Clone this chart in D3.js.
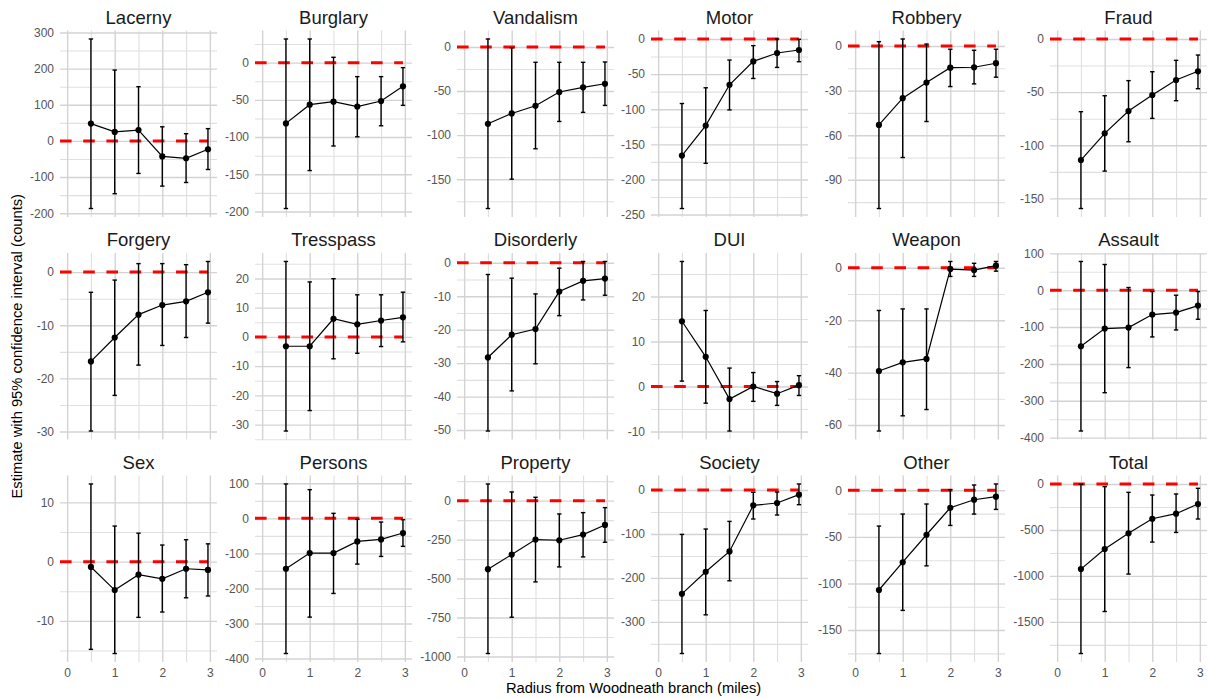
<!DOCTYPE html>
<html>
<head>
<meta charset="utf-8">
<script src="https://cdn.jsdelivr.net/npm/d3@7"></script>
<style>
  body { margin: 0; background: #fff; }
  text { font-family: "Liberation Sans", Arial, sans-serif; }
</style>
</head>
<body>
<script>
// facet names, in reading order (6 columns x 3 rows)
const crimes = ["Lacerny", "Burglary", "Vandalism", "Motor", "Robbery", "Fraud",
                "Forgery", "Tresspass", "Disorderly", "DUI", "Weapon", "Assault",
                "Sex", "Persons", "Property", "Society", "Other", "Total"];

// radius (miles) of each estimate
const radius = [0.5, 1, 1.5, 2, 2.5, 2.96];

// point estimates, one row per crime
const estimate = [
  [48, 25, 30, -43, -48, -23],
  [-81.6, -56.5, -52.5, -59, -51.6, -31.8],
  [-87.1, -75.4, -66.7, -51.1, -45.8, -41.7],
  [-166, -123.3, -65.2, -31.9, -20, -15.7],
  [-53.1, -35.1, -24.6, -14.6, -14.3, -11.6],
  [-113.9, -88.8, -67.8, -52.7, -38.6, -30.4],
  [-16.8, -12.3, -8.0, -6.2, -5.5, -3.8],
  [-3.2, -3.2, 6.2, 4.3, 5.6, 6.7],
  [-28.3, -21.5, -19.8, -8.6, -5.4, -4.7],
  [14.5, 6.6, -2.8, 0, -1.6, 0.3],
  [-39.4, -36.1, -34.8, -0.5, -0.9, 0.8],
  [-152, -104.2, -101.4, -66.1, -60.7, -41.7],
  [-0.9, -4.8, -2.2, -2.9, -1.2, -1.4],
  [-143.8, -99, -99, -65.7, -60, -41.9],
  [-440, -346, -250, -254.3, -218, -156],
  [-236.2, -186, -139.7, -34.9, -29.6, -10.6],
  [-107, -77.2, -47.7, -18.7, -10.1, -6.8],
  [-926, -708, -537, -378, -323, -218]
];

// lower 95% bound
const lower = [
  [-187, -146, -90, -125, -115, -79],
  [-196, -145, -112, -99.6, -84.8, -57.4],
  [-183.3, -150, -115.5, -84.5, -74.2, -66.3],
  [-241.4, -177, -101, -56.2, -40.5, -32.4],
  [-109.3, -75, -50.8, -27.3, -25.5, -21],
  [-159.5, -124.3, -96.7, -74.7, -58.1, -46.8],
  [-29.9, -23.2, -17.5, -13.8, -12.3, -9.6],
  [-32.2, -25.2, -7.5, -5.6, -3.3, -1.7],
  [-50.3, -38.3, -30.2, -15.8, -11.1, -9.7],
  [1.2, -3.7, -9.9, -3.3, -4.2, -2.0],
  [-62.3, -56.5, -54.1, -3.3, -3.3, -1.3],
  [-382, -278, -210, -126.8, -107.8, -78.8],
  [-14.8, -15.5, -9.4, -8.5, -6.1, -5.8],
  [-385.7, -281.9, -214.3, -130.5, -108.6, -80],
  [-980.8, -747.9, -521.4, -425.2, -361.1, -267],
  [-372, -284, -206.5, -66, -56.9, -33.4],
  [-175.2, -128.9, -81.1, -37.7, -25.5, -20.5],
  [-1844, -1387, -980, -632, -527, -381]
];

// upper 95% bound
const upper = [
  [282, 196, 150, 39, 20, 34],
  [31.8, 31.8, 7.2, -18.8, -18.8, -6.7],
  [9.1, -0.8, -17.4, -17.4, -17.4, -17],
  [-91.9, -69.5, -30, -9.5, 0, -0.5],
  [2.9, 4.7, 1.3, -2.2, -2.9, -2.2],
  [-68.4, -53.4, -39.2, -30.8, -20.1, -15.1],
  [-3.8, -1.5, 1.6, 1.6, 1.4, 2.0],
  [25.8, 18.8, 19.9, 14.4, 14.4, 15.3],
  [-3.5, -4.6, -9.3, -1.6, 0.4, 0.4],
  [27.8, 16.9, 4.1, 3.1, 1.1, 2.4],
  [-16.3, -15.7, -15.7, 2.4, 1.7, 2.4],
  [77.9, 69.7, 7.2, -3.6, -13.6, -3.6],
  [13.1, 6.0, 4.8, 2.8, 3.7, 3.0],
  [98.1, 81.9, 14.3, -2.9, -10.5, -3.8],
  [106.8, 55.6, 21.4, -85.5, -76.9, -44.9],
  [-101, -88.8, -71.4, -5.3, -4.6, 13.7],
  [-38.4, -25.5, -14.7, 0.7, 5.7, 6.8],
  [-4, -29, -91, -120, -109, -47]
];

// y tick labels of each facet
const yTicks = [
  [-200, -100, 0, 100, 200, 300],
  [-200, -150, -100, -50, 0],
  [-150, -100, -50, 0],
  [-250, -200, -150, -100, -50, 0],
  [-90, -60, -30, 0],
  [-150, -100, -50, 0],
  [-30, -20, -10, 0],
  [-30, -20, -10, 0, 10, 20],
  [-50, -40, -30, -20, -10, 0],
  [-10, 0, 10, 20],
  [-60, -40, -20, 0],
  [-400, -300, -200, -100, 0, 100],
  [-10, 0, 10],
  [-400, -300, -200, -100, 0, 100],
  [-1000, -750, -500, -250, 0],
  [-300, -200, -100, 0],
  [-150, -100, -50, 0],
  [-1500, -1000, -500, 0]
];

const xTicks = [0, 1, 2, 3];
const xMinor = [0.5, 1.5, 2.5];

// layout
const colLeft = [60, 255, 457, 651, 848, 1050];
const rowTop = [30.5, 253, 475.5];
const pw = 157, ph = 186.5;

const svg = d3.select("body").append("svg")
    .attr("width", 1208)
    .attr("height", 698);

const fmt = d => d3.format("d")(d).replace("−", "-");

crimes.forEach((name, i) => {
  const c = i % 6, r = Math.floor(i / 6);
  const g = svg.append("g")
      .attr("transform", `translate(${colLeft[c]}, ${rowTop[r]})`);

  const x = d3.scaleLinear().domain([-0.15, 3.15]).range([0, pw]);

  const lo = Math.min(0, d3.min(lower[i]));
  const hi = Math.max(0, d3.max(upper[i]));
  const pad = (hi - lo) * 0.05;
  const y = d3.scaleLinear().domain([lo - pad, hi + pad]).range([ph, 0]);

  // minor breaks halfway between majors
  const t = yTicks[i];
  const step = t[1] - t[0];
  const yMinor = d3.range(t[0] - step / 2, t[t.length - 1] + step, step)
      .filter(v => v >= y.domain()[0] && v <= y.domain()[1]);

  // minor grid
  g.append("g")
      .attr("class", "minor")
      .call(d3.axisLeft(y).tickValues(yMinor).tickSize(-pw).tickFormat(""));
  g.append("g")
      .attr("class", "minor")
      .attr("transform", `translate(0, ${ph})`)
      .call(d3.axisBottom(x).tickValues(xMinor).tickSize(-ph).tickFormat(""));

  // major grid + labels
  g.append("g")
      .attr("class", "major")
      .call(d3.axisLeft(y).tickValues(t).tickSize(-pw).tickPadding(6).tickFormat(fmt));
  g.append("g")
      .attr("class", "major")
      .attr("transform", `translate(0, ${ph})`)
      .call(d3.axisBottom(x).tickValues(xTicks).tickSize(-ph).tickPadding(6)
          .tickFormat(r === 2 ? d3.format("d") : ""));

  g.selectAll(".domain").remove();
  g.selectAll(".minor line").attr("stroke", "#e0e0e0").attr("stroke-width", 1.1);
  g.selectAll(".major line").attr("stroke", "#d3d3d3").attr("stroke-width", 1.4);
  g.selectAll(".tick text")
      .attr("fill", "#555")
      .style("font-size", "12px");

  // zero reference
  g.append("line")
      .attr("x1", 0)
      .attr("x2", x(radius[radius.length - 1]))
      .attr("y1", y(0))
      .attr("y2", y(0))
      .attr("stroke", "#ff0000")
      .attr("stroke-width", 3)
      .attr("stroke-dasharray", "11.6,11.6");

  const rows = radius.map((rad, k) => ({x: rad, est: estimate[i][k], lo: lower[i][k], hi: upper[i][k]}));

  // error bars
  const bars = g.append("g").selectAll("g").data(rows).join("g");
  bars.append("line")
      .attr("x1", d => x(d.x)).attr("x2", d => x(d.x))
      .attr("y1", d => y(d.lo)).attr("y2", d => y(d.hi))
      .attr("stroke", "#000").attr("stroke-width", 1.4);
  ["lo", "hi"].forEach(key => {
    bars.append("line")
        .attr("x1", d => x(d.x) - 2.2).attr("x2", d => x(d.x) + 2.2)
        .attr("y1", d => y(d[key])).attr("y2", d => y(d[key]))
        .attr("stroke", "#000").attr("stroke-width", 1.4);
  });

  const line = d3.line().x(d => x(d.x)).y(d => y(d.est));
  g.append("path")
      .attr("d", line(rows))
      .attr("fill", "none")
      .attr("stroke", "#000")
      .attr("stroke-width", 1.2);

  g.append("g").selectAll("circle").data(rows).join("circle")
      .attr("cx", d => x(d.x))
      .attr("cy", d => y(d.est))
      .attr("r", 3.1)
      .attr("fill", "#000");

  // strip title
  g.append("text")
      .attr("x", pw / 2)
      .attr("y", -7)
      .attr("text-anchor", "middle")
      .attr("fill", "#1a1a1a")
      .style("font-size", "18.5px")
      .text(name);
});

// axis titles
svg.append("text")
    .attr("x", (colLeft[0] + colLeft[5] + pw) / 2)
    .attr("y", 693)
    .attr("text-anchor", "middle")
    .attr("fill", "#000")
    .style("font-size", "14.7px")
    .text("Radius from Woodneath branch (miles)");

svg.append("text")
    .attr("transform", `translate(22, ${(rowTop[0] + rowTop[2] + ph) / 2}) rotate(-90)`)
    .attr("text-anchor", "middle")
    .attr("fill", "#000")
    .style("font-size", "14.7px")
    .text("Estimate with 95% confidence interval (counts)");
</script>
</body>
</html>
